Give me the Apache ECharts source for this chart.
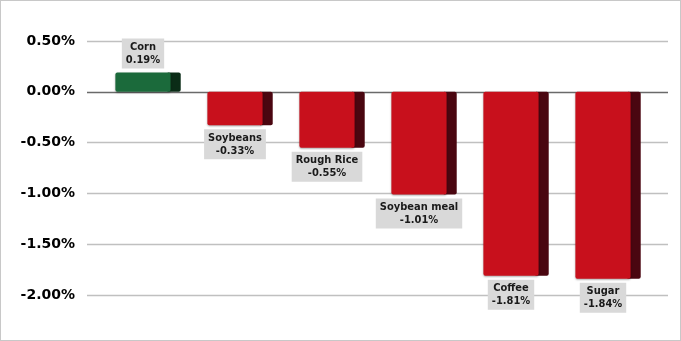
<!DOCTYPE html>
<html>
<head>
<meta charset="utf-8">
<script src="https://cdn.jsdelivr.net/npm/echarts@6/dist/echarts.min.js"></script>
<style>
html,body{margin:0;padding:0;background:#fff;}
#chart{width:681px;height:341px;box-sizing:border-box;border:1px solid #c8c8c8;}
</style>
</head>
<body>
<div id="chart"></div>
<script>
const categories = ['Corn', 'Soybeans', 'Rough Rice', 'Soybean meal', 'Coffee', 'Sugar'];
const values = [0.19, -0.33, -0.55, -1.01, -1.81, -1.84];
const yTicks = [-2.0, -1.5, -1.0, -0.5, 0.0, 0.5];

const chart = echarts.init(document.getElementById('chart'), null, {renderer: 'canvas'});
const gridTop = 40, gridBottom = 45;
const labelFont = 'bold 11px "DejaVu Sans Condensed", "DejaVu Sans", sans-serif';

chart.setOption({
  animation: false,
  grid: [
    {left: 86, right: 12, top: gridTop, bottom: gridBottom, containLabel: false},
    {left: 96, right: 31, top: gridTop, bottom: gridBottom, containLabel: false}
  ],
  xAxis: [
    {gridIndex: 0, type: 'value', show: false, min: 0, max: 1},
    {gridIndex: 1, type: 'category', data: categories, show: false}
  ],
  yAxis: [
    {gridIndex: 0, type: 'value', min: yTicks[0], max: yTicks[yTicks.length - 1], interval: 0.5,
     axisLine: {show: false}, axisTick: {show: false},
     axisLabel: {margin: 12, color: '#000', fontFamily: 'DejaVu Sans', fontWeight: 'bold', fontSize: 14,
                 formatter: v => v.toFixed(2) + '%'},
     splitLine: {lineStyle: {color: ['#c0c0c0', '#c0c0c0', '#c0c0c0', '#c0c0c0', '#6a6a6a', '#c0c0c0'], width: 1.3}}},
    {gridIndex: 1, type: 'value', min: yTicks[0], max: yTicks[yTicks.length - 1], interval: 0.5, show: false}
  ],
  series: [{
    type: 'custom',
    xAxisIndex: 1,
    yAxisIndex: 1,
    data: values.map((v, i) => [i, v]),
    renderItem: function (params, api) {
      const i = api.value(0), v = api.value(1);
      const p = api.coord([i, v]);
      const z = api.coord([i, 0]);
      const band = api.size([1, 0])[0];
      const fw = band * 0.6, sw = band * 0.11;
      const x0 = p[0] - fw / 2;
      const y0 = Math.min(p[1], z[1]), h = Math.abs(p[1] - z[1]);
      const pos = v >= 0;
      const front = pos ? '#1b6a3b' : '#c8101c';
      const side = pos ? '#0b2c17' : '#4a0610';
      const txt = categories[i] + '\n' + v.toFixed(2) + '%';
      return {
        type: 'group',
        children: [
          {type: 'rect', shape: {x: x0 + fw - 4, y: y0, width: sw + 4, height: h, r: 2},
           style: {fill: side}},
          {type: 'rect', shape: {x: x0, y: y0, width: fw, height: h, r: 2},
           style: {fill: front, shadowBlur: 2, shadowColor: 'rgba(0,0,0,0.35)', shadowOffsetY: 1}},
          {type: 'text',
           x: p[0], y: pos ? y0 - 4 : y0 + h + 4,
           style: {text: txt, font: labelFont, fill: '#1a1a1a', align: 'center',
                   verticalAlign: pos ? 'bottom' : 'top', lineHeight: 13,
                   backgroundColor: '#d9d9d9', padding: [2, 4, 2, 4]}}
        ]
      };
    }
  }]
});
</script>
</body>
</html>
